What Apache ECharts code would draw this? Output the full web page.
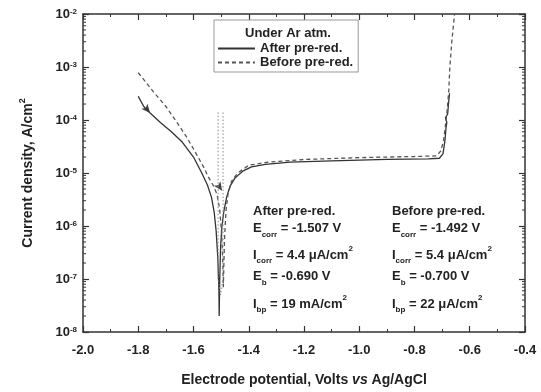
<!DOCTYPE html>
<html>
<head>
<meta charset="utf-8">
<script src="https://cdn.jsdelivr.net/npm/echarts@6/dist/echarts.min.js"></script>
<style>
  html, body { margin: 0; padding: 0; background: #fff; }
  #chart { width: 541px; height: 392px; }
</style>
</head>
<body>
<div id="chart"></div>
<script>
// Polarization curves under Ar atmosphere: potential (V vs Ag/AgCl) vs current density (A/cm2)
const afterPreRed = [
  [-1.800, 2.8e-4], [-1.795, 2.5e-4], [-1.790, 2.3e-4], [-1.780, 1.8e-4], [-1.757, 1.35e-4],
  [-1.720, 9e-5], [-1.680, 6e-5], [-1.640, 3.8e-5], [-1.600, 2e-5], [-1.570, 1e-5],
  [-1.550, 6e-6], [-1.535, 3.5e-6], [-1.525, 1.8e-6], [-1.518, 8e-7], [-1.512, 2.5e-7],
  [-1.508, 6e-8], [-1.507, 2e-8], [-1.505, 1e-7], [-1.502, 4e-7], [-1.497, 1e-6],
  [-1.490, 1.9e-6], [-1.480, 3.5e-6], [-1.468, 5.6e-6], [-1.450, 8e-6], [-1.420, 1.1e-5],
  [-1.390, 1.3e-5], [-1.340, 1.45e-5], [-1.250, 1.6e-5], [-1.100, 1.7e-5], [-0.900, 1.8e-5],
  [-0.750, 1.85e-5], [-0.710, 1.9e-5], [-0.697, 2.3e-5], [-0.690, 4e-5], [-0.686, 7e-5],
  [-0.683, 9e-5], [-0.688, 1.1e-4], [-0.680, 1.3e-4], [-0.677, 2e-4], [-0.673, 3.2e-4]
];
const beforePreRed = [
  [-1.800, 7.8e-4], [-1.780, 5.8e-4], [-1.747, 3.5e-4], [-1.700, 1.8e-4], [-1.660, 9e-5],
  [-1.624, 4.7e-5], [-1.590, 2.3e-5], [-1.560, 1.2e-5], [-1.548, 8.7e-6], [-1.530, 6e-6],
  [-1.515, 4e-6], [-1.505, 2e-6], [-1.498, 7e-7], [-1.494, 2e-7], [-1.492, 7e-8],
  [-1.490, 2e-7], [-1.487, 7e-7], [-1.482, 2e-6], [-1.475, 4e-6], [-1.462, 7e-6],
  [-1.440, 1e-5], [-1.400, 1.4e-5], [-1.330, 1.6e-5], [-1.200, 1.8e-5], [-1.000, 1.95e-5],
  [-0.800, 2.05e-5], [-0.720, 2.1e-5], [-0.705, 2.6e-5], [-0.695, 4e-5], [-0.688, 8e-5],
  [-0.682, 1.5e-4], [-0.676, 3.5e-4], [-0.672, 1e-3], [-0.665, 3e-3], [-0.655, 1e-2]
];
const tafelDotted = [
  [-1.511, 1.4e-4], [-1.511, 1e-7], [-1.502, 5e-8], [-1.493, 1e-7], [-1.493, 1.4e-4]
];
// arrow markers: [x, y, rotation]
const arrowMarks = [[-1.757, 1.35e-4, -140], [-1.496, 4.6e-6, -145]];

const xTicks = { min: -2.0, max: -0.4, interval: 0.2 };
const yDecades = [-8, -7, -6, -5, -4, -3];
const yMinorMult = [2, 3, 4, 5, 6, 7, 8, 9];

const afterLines = [
  'After pre-red.',
  'E{sub|corr} = -1.507 V',
  'I{sub|corr} = 4.4 μA/cm{sup|2}',
  'E{sub|b} = -0.690 V',
  'I{sub|bp} = 19 mA/cm{sup|2}'
];
const beforeLines = [
  'Before pre-red.',
  'E{sub|corr} = -1.492 V',
  'I{sub|corr} = 5.4 μA/cm{sup|2}',
  'E{sub|b} = -0.700 V',
  'I{sub|bp} = 22 μA/cm{sup|2}'
];
const lineCenters = [215, 232, 255, 280, 304];

const FONT = 'Liberation Sans, Arial, sans-serif';
const INK = '#222';

const minorLogTicks = [];
for (const d of yDecades) for (const m of yMinorMult) minorLogTicks.push([xTicks.min, m * Math.pow(10, d)]);

const richText = {
  b: { fontFamily: FONT, fontWeight: 'bold', fontSize: 13, lineHeight: 20, color: INK },
  sub: { fontFamily: FONT, fontWeight: 'bold', fontSize: 8, lineHeight: 8, verticalAlign: 'bottom', color: INK },
  sup: { fontFamily: FONT, fontWeight: 'bold', fontSize: 8, lineHeight: 8, verticalAlign: 'top', color: INK }
};
const toRich = (s) => '{b|' + s.replace(/\{(sub|sup)\|([^}]*)\}/g, '}{$1|$2}{b|') + '}';

const textBlock = (lines, left) => lines.map((t, i) => ({
  type: 'text',
  left: left,
  top: lineCenters[i] - 10,
  style: { text: toRich(t), rich: richText, fill: INK }
}));

const frameAxis = (extra) => Object.assign({
  axisLine: { show: true, onZero: false, lineStyle: { color: '#333', width: 1.5 } },
  axisTick: { show: true, inside: true, length: 6, lineStyle: { color: '#333', width: 1.2 } },
  splitLine: { show: false }
}, extra);

const chart = echarts.init(document.getElementById('chart'));
chart.setOption({
  animation: false,
  backgroundColor: '#fff',
  grid: { left: 83, right: 16, top: 14, bottom: 53 },
  legend: {
    data: ['After pre-red.', 'Before pre-red.'],
    orient: 'vertical',
    left: 214, top: 20,
    padding: [22, 5, 3, 3],
    itemGap: 1,
    itemWidth: 37, itemHeight: 13,
    itemStyle: { opacity: 0 },
    borderColor: '#999', borderWidth: 1,
    textStyle: { fontFamily: FONT, fontWeight: 'bold', fontSize: 13, color: INK }
  },
  xAxis: [
    frameAxis({
      type: 'value', min: xTicks.min, max: xTicks.max, interval: xTicks.interval, position: 'bottom',
      minorTick: { show: true, splitNumber: 2, length: 3, lineStyle: { color: '#333' } },
      axisLabel: { fontFamily: FONT, fontWeight: 'bold', fontSize: 13, color: INK, margin: 12,
        formatter: (v) => v.toFixed(1) },
      name: 'Electrode potential, Volts {i|vs} Ag/AgCl',
      nameLocation: 'middle', nameGap: 41,
      nameTextStyle: { fontFamily: FONT, fontWeight: 'bold', fontSize: 14, color: INK,
        rich: { i: { fontFamily: FONT, fontWeight: 'bold', fontStyle: 'italic', fontSize: 14, color: INK } } }
    }),
    frameAxis({
      type: 'value', min: xTicks.min, max: xTicks.max, interval: xTicks.interval, position: 'top',
      minorTick: { show: true, splitNumber: 2, length: 3, lineStyle: { color: '#333' } },
      axisLabel: { show: false }
    })
  ],
  yAxis: [
    frameAxis({
      type: 'log', min: 1e-8, max: 1e-2, logBase: 10, position: 'left',
      axisLabel: { fontFamily: FONT, fontWeight: 'bold', fontSize: 13, color: INK, margin: 6,
        formatter: (v) => '10{s|' + Math.round(Math.log10(v)) + '}',
        rich: { s: { fontFamily: FONT, fontWeight: 'bold', fontSize: 8, lineHeight: 8, verticalAlign: 'top', color: INK } } },
      name: 'Current density, A/cm{s|2}',
      nameLocation: 'middle', nameGap: 45,
      nameTextStyle: { fontFamily: FONT, fontWeight: 'bold', fontSize: 14, color: INK, lineHeight: 20,
        rich: { s: { fontFamily: FONT, fontWeight: 'bold', fontSize: 9, lineHeight: 9, verticalAlign: 'top', color: INK } } }
    }),
    frameAxis({
      type: 'log', min: 1e-8, max: 1e-2, logBase: 10, position: 'right',
      axisLabel: { show: false }
    })
  ],
  series: [
    {
      name: 'After pre-red.', type: 'line', data: afterPreRed, symbol: 'none',
      lineStyle: { color: '#333', width: 1.3 }, itemStyle: { color: '#333' }
    },
    {
      name: 'Before pre-red.', type: 'line', data: beforePreRed, symbol: 'none',
      lineStyle: { color: '#555', width: 1.3, type: [4, 3] }, itemStyle: { color: '#555' }
    },
    {
      name: 'tafel', type: 'line', data: tafelDotted, symbol: 'none',
      lineStyle: { color: '#888', width: 1, type: [1.5, 2] }
    },
    {
      name: 'arrows', type: 'scatter', symbol: 'arrow', symbolSize: [6, 9],
      data: arrowMarks.map(a => ({ value: [a[0], a[1]], symbolRotate: a[2] })),
      itemStyle: { color: '#111' }
    },
    {
      name: 'minorLog', type: 'custom', data: minorLogTicks, silent: true,
      renderItem: (params, api) => {
        const cs = params.coordSys;
        const y = api.coord([api.value(0), api.value(1)])[1];
        const st = { stroke: '#333', lineWidth: 1 };
        return { type: 'group', children: [
          { type: 'line', shape: { x1: cs.x, y1: y, x2: cs.x + 3, y2: y }, style: st },
          { type: 'line', shape: { x1: cs.x + cs.width, y1: y, x2: cs.x + cs.width - 3, y2: y }, style: st }
        ] };
      }
    }
  ],
  graphic: [
    { type: 'text', x: 288, y: 33, z: 100,
      style: { text: 'Under Ar atm.', font: 'bold 13px ' + FONT, fill: INK, align: 'center', verticalAlign: 'middle' } }
  ].concat(textBlock(afterLines, 253), textBlock(beforeLines, 392))
});
</script>
</body>
</html>
